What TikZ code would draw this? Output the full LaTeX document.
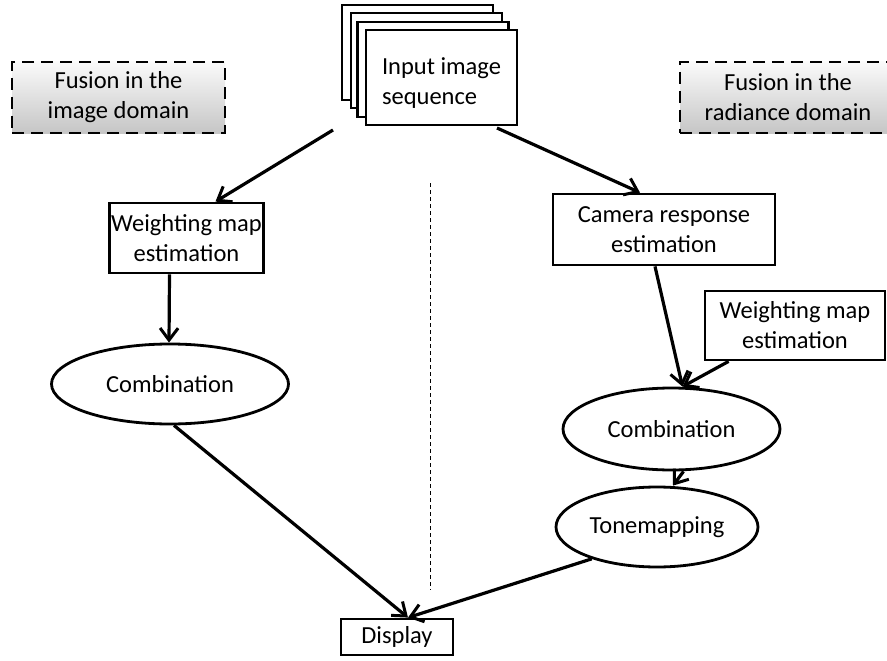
\documentclass[tikz,border=0pt]{standalone}
\usepackage{fontspec}
\setmainfont{Carlito}
\usetikzlibrary{arrows.meta,positioning,shapes.geometric}

\begin{document}
\begin{tikzpicture}[
    x=1pt, y=-1pt,
    every node/.style={font=\fontsize{24.5}{30}\selectfont, align=center},
    stepbox/.style={draw, line width=2.8pt, fill=white, minimum width=153pt, minimum height=70pt, inner sep=2pt},
    frame/.style={draw, line width=2.8pt, fill=white, minimum width=151pt, minimum height=95pt, inner sep=0pt},
    oval/.style={draw, ellipse, line width=2.8pt, fill=white, inner sep=0pt},
    fusionbox/.style={draw, line width=2.8pt, dash pattern=on 12pt off 7pt, top color=gray!4, bottom color=gray!45, minimum width=213pt, minimum height=71pt},
    flow/.style={->, line width=3.2pt},
    >={Straight Barb[length=12pt, width=18pt, line width=3pt]}
]
\useasboundingbox (0,0) rectangle (887,661);

% stacked input images
\node[frame] (img1) at (417.5,52.5) {};
\node[frame] (img2) at (426.5,60.5) {};
\node[frame] (img3) at (433,69.5) {};
\node[frame, align=left] (img4) at (441.5,77.5) {\rule{0pt}{27pt}Input image\\sequence};

% the two domains
\node[fusionbox] (imgdom) at (118.5,97.5) {Fusion in the\\image domain};
\node[fusionbox, minimum width=216pt] (raddom) at (788,97.5) {Fusion in the\\radiance domain};

\draw[line width=1pt, dash pattern=on 4pt off 3pt] (430,183) -- (430,590);

% image domain branch
\node[stepbox] (wmapl) at (186.5,238) {Weighting map\\estimation};
\node[oval, minimum width=237pt, minimum height=80pt] (combl) at (170,384) {Combination};

% radiance domain branch
\node[stepbox, minimum width=222pt, minimum height=71pt] (camresp) at (664,229.5) {Camera response\\estimation};
\node[stepbox, minimum width=180pt, minimum height=69pt] (wmapr) at (795,325.5) {Weighting map\\estimation};
\node[oval, minimum width=217pt, minimum height=82pt] (combr) at (671.5,429) {Combination};
\node[oval, minimum width=202pt, minimum height=80pt] (tonemap) at (657,527) {Tonemapping};

\node[stepbox, minimum width=112pt, minimum height=36pt, inner sep=0pt] (disp) at (397,637) {Display};

\coordinate (outl) at (333,130);
\coordinate (outr) at (497,128);
\coordinate (combin) at ([xshift=11pt]combr.north);
\coordinate (dispin) at ([xshift=11pt]disp.north);

\draw[flow] (outl) -- ([xshift=29pt]wmapl.north);
\draw[flow] (outr) -- ([xshift=-24pt]camresp.north);
\draw[flow] ([xshift=-17pt]wmapl.south) -- ([xshift=-1pt]combl.north);
\draw[flow] ([xshift=4pt]combl.south) -- (dispin);
\draw[flow] ([xshift=-9pt]camresp.south) -- (combin);
\draw[flow] ([xshift=25pt]wmapr.south west) -- (combin);
\draw[flow] ([xshift=12pt]combr.south) -- ([xshift=16pt]tonemap.north);
\draw[flow] (tonemap.206) -- (dispin);
\end{tikzpicture}
\end{document}
